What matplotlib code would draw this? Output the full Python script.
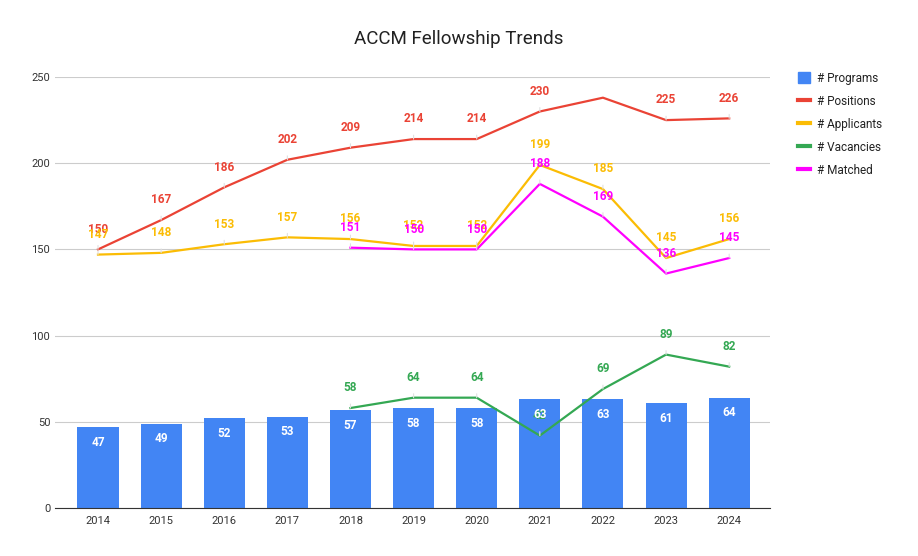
import matplotlib
matplotlib.use("Agg")
import matplotlib.pyplot as plt
from matplotlib.patches import Patch
from matplotlib.lines import Line2D

plt.rcParams['font.family'] = ['Roboto', 'DejaVu Sans']

years = [2014, 2015, 2016, 2017, 2018, 2019, 2020, 2021, 2022, 2023, 2024]
programs = [47, 49, 52, 53, 57, 58, 58, 63, 63, 61, 64]
positions = [150, 167, 186, 202, 209, 214, 214, 230, 238, 225, 226]
applicants = [147, 148, 153, 157, 156, 152, 152, 199, 185, 145, 156]
vac_years = [2018, 2019, 2020, 2021, 2022, 2023, 2024]
vacancies = [58, 64, 64, 42, 69, 89, 82]
matched = [151, 150, 150, 188, 169, 136, 145]
# 2022 positions point has no label in the original
pos_labels = [str(v) for v in positions]
pos_labels[8] = None

BLUE, RED, YEL, GRN, MAG = "#4285F4", "#EA4335", "#FBBC04", "#34A853", "#FF00FF"

fig = plt.figure(figsize=(9.18, 5.56), dpi=100)
ax = fig.add_axes([0.060, 0.0863, 0.779, 0.7752])

x = list(range(len(years)))
xv = [years.index(y) for y in vac_years]

ax.bar(x, programs, width=0.65, color=BLUE, zorder=2)
for xi, v in zip(x, programs):
    ax.annotate(str(v), (xi, v), xytext=(0, -11), textcoords="offset points",
                ha="center", va="center", color="white", fontsize=8.5,
                fontweight="bold", zorder=5)

def line_with_labels(xs, ys, color, labels=None):
    ax.plot(xs, ys, color=color, lw=1.6, zorder=3)
    if labels is None:
        labels = [str(v) for v in ys]
    for xi, v, lab in zip(xs, ys, labels):
        if lab is None:
            continue
        ax.annotate(lab, (xi, v), xytext=(0, 14.5), textcoords="offset points",
                    ha="center", va="center", color=color, fontsize=8.5,
                    fontweight="bold", zorder=4,
                    arrowprops=dict(arrowstyle="-", color="#e0e0e0", lw=0.8,
                                    shrinkA=5, shrinkB=0))

line_with_labels(x, positions, RED, pos_labels)
line_with_labels(x, applicants, YEL)
line_with_labels(xv, vacancies, GRN)
line_with_labels(xv, matched, MAG)

ax.set_ylim(0, 250)
ax.set_xlim(-0.68, len(years) - 0.35)
ax.set_yticks([0, 50, 100, 150, 200, 250])
ax.set_xticks(x)
ax.set_xticklabels([str(y) for y in years])
ax.grid(axis="y", color="#cccccc", lw=0.8, zorder=0)
ax.set_axisbelow(True)
for s in ("left", "right", "top"):
    ax.spines[s].set_visible(False)
ax.spines["bottom"].set_color("#333333")
ax.tick_params(axis="both", length=0, labelsize=8, colors="#333333")
ax.tick_params(axis="x", pad=6)

fig.text(0.5, 0.93, "ACCM Fellowship Trends", ha="center", va="center",
         fontsize=13.5, color="#222222")

handles = [Patch(color=BLUE),
           Line2D([], [], color=RED, lw=3),
           Line2D([], [], color=YEL, lw=3),
           Line2D([], [], color=GRN, lw=3),
           Line2D([], [], color=MAG, lw=3)]
names = ["# Programs", "# Positions", "# Applicants", "# Vacancies", "# Matched"]
fig.legend(handles, names, loc="upper left", bbox_to_anchor=(0.858, 0.89),
           frameon=False, fontsize=8.5, handlelength=1.0, handleheight=1.0,
           labelspacing=0.85, handletextpad=0.6, labelcolor="#222222")

fig.savefig("out.png", dpi=100)
